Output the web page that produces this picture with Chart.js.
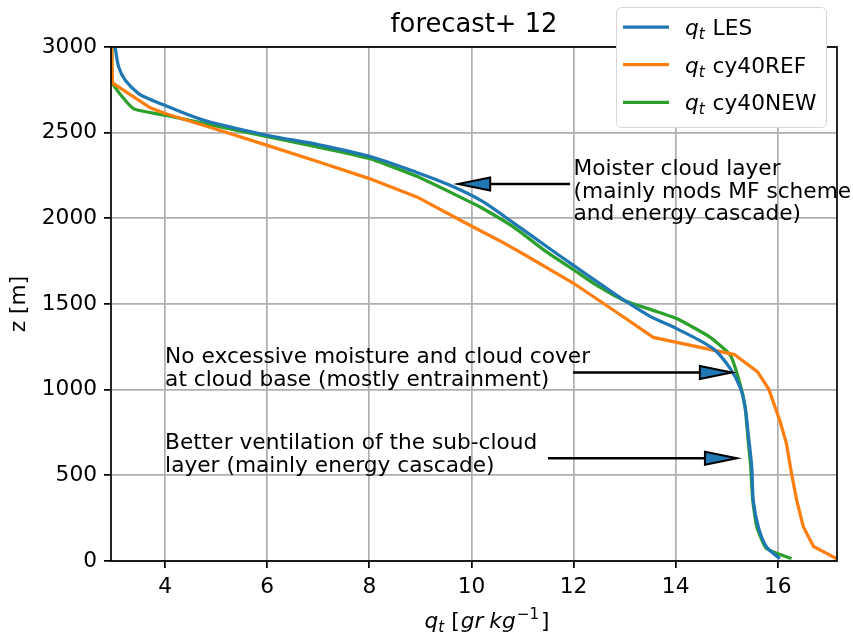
<!DOCTYPE html>
<html>
<head>
<meta charset="utf-8">
<script src="https://cdn.jsdelivr.net/npm/chart.js@4.4.1/dist/chart.umd.min.js"></script>
<style>
  html, body { margin: 0; padding: 0; background: #fff; }
</style>
</head>
<body>
<canvas id="qtChart" width="853" height="638"></canvas>
<script>
const xTicks = [4, 6, 8, 10, 12, 14, 16];
const yTicks = [0, 500, 1000, 1500, 2000, 2500, 3000];
const xMin = 2.94, xMax = 17.16;

// q_t LES
const lesQt = [3.02, 3.09, 3.22, 3.48, 3.7, 4.0, 4.78, 6.0, 7.0, 8.0, 8.93, 9.58, 10.2, 10.85, 11.5, 12.0, 12.5, 12.95, 13.5, 14.02, 14.74, 15.07, 15.26, 15.36, 15.42, 15.49, 15.52, 15.62, 15.78, 16.04];
const lesZ = [3000, 2884, 2806, 2728, 2695, 2659, 2571, 2485, 2430, 2362, 2268, 2193, 2102, 1968, 1830, 1725, 1622, 1530, 1428, 1356, 1238, 1123, 1016, 899, 744, 549, 354, 198, 82, 14];

// q_t cy40REF
const refQt = [2.95, 2.97, 3.71, 4.0, 5.0, 6.0, 7.0, 8.0, 8.93, 9.84, 10.56, 11.0, 12.0, 12.98, 13.56, 15.15, 15.6, 15.82, 16.04, 16.17, 16.27, 16.37, 16.5, 16.7, 17.15];
const refZ = [3000, 2790, 2645, 2612, 2520, 2426, 2330, 2232, 2125, 1980, 1868, 1795, 1621, 1424, 1305, 1205, 1105, 1005, 820, 685, 510, 355, 200, 85, 14];

// q_t cy40NEW
const newQt = [2.96, 2.97, 3.38, 4.0, 4.78, 6.0, 7.0, 8.0, 8.93, 9.84, 10.17, 10.82, 11.47, 12.0, 12.4, 12.98, 13.56, 14.02, 14.67, 15.07, 15.26, 15.36, 15.42, 15.47, 15.51, 15.59, 15.78, 16.27];
const newZ = [3000, 2790, 2640, 2602, 2553, 2476, 2416, 2349, 2245, 2115, 2066, 1950, 1804, 1700, 1619, 1522, 1463, 1415, 1307, 1201, 1035, 899, 705, 549, 354, 198, 72, 14];

const seriesNames = ['LES', 'cy40REF', 'cy40NEW'];
const seriesColors = ['#1f77b4', '#ff7f0e', '#2ca02c'];

// annotations (data coords)
const noteLines = [
    ['Moister cloud layer', '(mainly mods MF scheme', 'and energy cascade)'],
    ['No excessive moisture and cloud cover', 'at cloud base (mostly entrainment)'],
    ['Better ventilation of the sub-cloud', 'layer (mainly energy cascade)']
];
const noteQt = [12.0, 4.0, 4.0];
const noteZ = [2251, 1154, 652];
const arrowFromQt = [11.93, 11.99, 11.5];
const arrowToQt = [9.74, 15.1, 15.2];
const arrowZ = [2200, 1100, 600];

const FONT = '"DejaVu Sans"';
const FS = 21.7;
Chart.defaults.font.family = 'DejaVu Sans';
Chart.defaults.color = '#000';

function toPoints(xs, ys) {
    return xs.map((x, i) => ({ x: x, y: ys[i] }));
}

function drawMath(ctx, parts, x, y, measureOnly) {
    let cx = x;
    parts.forEach(p => {
        ctx.font = (p.italic ? 'italic ' : '') + (p.size || FS) + 'px ' + FONT;
        if (!measureOnly) ctx.fillText(p.t, cx, y + (p.dy || 0));
        cx += ctx.measureText(p.t).width + (p.gap || 0);
    });
    return cx - x;
}

function qtParts(rest) {
    return [
        { t: 'q', italic: true },
        { t: 't', italic: true, size: 15.2, dy: 4, gap: 1 },
        { t: rest }
    ];
}

function drawArrow(ctx, x0, x1, y) {
    const dir = Math.sign(x1 - x0);
    const xb = x1 - dir * 32;
    ctx.save();
    ctx.strokeStyle = '#000';
    ctx.lineWidth = 2.6;
    ctx.beginPath();
    ctx.moveTo(x0, y);
    ctx.lineTo(xb, y);
    ctx.stroke();
    ctx.beginPath();
    ctx.moveTo(x1, y);
    ctx.lineTo(xb, y - 6.5);
    ctx.lineTo(xb, y + 6.5);
    ctx.closePath();
    ctx.fillStyle = '#1f77b4';
    ctx.fill();
    ctx.lineWidth = 2;
    ctx.lineJoin = 'miter';
    ctx.stroke();
    ctx.restore();
}

const extras = {
    id: 'extras',
    afterDatasetsDraw(chart) {
        const ctx = chart.ctx;
        const a = chart.chartArea;
        const xs = chart.scales.x, ys = chart.scales.y;

        // spines
        ctx.save();
        ctx.strokeStyle = '#000';
        ctx.lineWidth = 1.7;
        ctx.strokeRect(a.left, a.top, a.right - a.left, a.bottom - a.top);

        // arrows
        arrowZ.forEach((z, i) => {
            drawArrow(ctx, xs.getPixelForValue(arrowFromQt[i]), xs.getPixelForValue(arrowToQt[i]), ys.getPixelForValue(z));
        });

        // annotation texts
        ctx.fillStyle = '#000';
        ctx.textAlign = 'left';
        ctx.textBaseline = 'alphabetic';
        ctx.font = FS + 'px ' + FONT;
        noteLines.forEach((lines, i) => {
            const x = xs.getPixelForValue(noteQt[i]);
            const y = ys.getPixelForValue(noteZ[i]);
            lines.forEach((t, j) => ctx.fillText(t, x, y + j * 22.4));
        });

        // title
        ctx.textAlign = 'center';
        ctx.font = '25.8px ' + FONT;
        ctx.fillText('forecast+ 12', (a.left + a.right) / 2, 32);

        // x axis label
        ctx.textAlign = 'left';
        const xlab = [
            { t: 'q', italic: true },
            { t: 't', italic: true, size: 15.2, dy: 4, gap: 7 },
            { t: '[', gap: 1 },
            { t: 'gr', italic: true, gap: 6 },
            { t: 'kg', italic: true, gap: 1 },
            { t: '\u22121', size: 15.2, dy: -9, gap: 2 },
            { t: ']' }
        ];
        const w = drawMath(ctx, xlab, 0, 0, true);
        drawMath(ctx, xlab, 487 - w / 2, 628);
        ctx.restore();
    },
    afterDraw(chart) {
        const ctx = chart.ctx;
        ctx.save();
        // legend box
        ctx.beginPath();
        ctx.roundRect(616.5, 7.5, 210, 120, 5);
        ctx.fillStyle = '#fff';
        ctx.fill();
        ctx.strokeStyle = '#d6d6d6';
        ctx.lineWidth = 1;
        ctx.stroke();
        const rowY = [27, 64.7, 102.4];
        seriesNames.forEach((name, i) => {
            ctx.strokeStyle = seriesColors[i];
            ctx.lineWidth = 3.25;
            ctx.beginPath();
            ctx.moveTo(623, rowY[i]);
            ctx.lineTo(669, rowY[i]);
            ctx.stroke();
            ctx.fillStyle = '#000';
            ctx.textAlign = 'left';
            ctx.textBaseline = 'alphabetic';
            drawMath(ctx, qtParts(' ' + name), 685, rowY[i] + 8);
        });
        ctx.restore();
    }
};

const ctx = document.getElementById('qtChart').getContext('2d');
new Chart(ctx, {
    type: 'scatter',
    data: {
        datasets: [
            { label: 'LES', data: toPoints(lesQt, lesZ), tension: 0.3 },
            { label: 'cy40REF', data: toPoints(refQt, refZ), tension: 0 },
            { label: 'cy40NEW', data: toPoints(newQt, newZ), tension: 0.15 }
        ].map((d, i) => Object.assign(d, {
            showLine: true,
            borderColor: seriesColors[i],
            backgroundColor: seriesColors[i],
            borderWidth: 3.25,
            pointRadius: 0,
            pointHoverRadius: 0
        }))
    },
    options: {
        responsive: false,
        animation: false,
        events: [],
        layout: { padding: { top: 47, right: 16, left: 0, bottom: 0 } },
        plugins: {
            legend: { display: false },
            tooltip: { enabled: false },
            title: { display: false }
        },
        scales: {
            x: {
                type: 'linear',
                min: xMin,
                max: xMax,
                afterBuildTicks: s => { s.ticks = xTicks.map(v => ({ value: v })); },
                afterFit: s => { s.height = 77; },
                grid: { color: '#b0b0b0', lineWidth: 1.73, drawTicks: true, tickLength: 7, tickColor: '#000', tickWidth: 1.73 },
                border: { display: false },
                ticks: { font: { size: FS }, color: '#000', padding: 6, maxRotation: 0, callback: v => String(v) }
            },
            y: {
                type: 'linear',
                min: 0,
                max: 3000,
                afterBuildTicks: s => { s.ticks = yTicks.map(v => ({ value: v })); },
                afterFit: s => { s.width = 111; },
                grid: { color: '#b0b0b0', lineWidth: 1.73, drawTicks: true, tickLength: 7, tickColor: '#000', tickWidth: 1.73 },
                border: { display: false },
                ticks: { font: { size: FS }, color: '#000', padding: 7, callback: v => String(v) },
                title: { display: true, text: 'z [m]', font: { size: FS }, color: '#000', padding: { top: 6, bottom: 0 } }
            }
        }
    },
    plugins: [extras]
});
</script>
</body>
</html>
